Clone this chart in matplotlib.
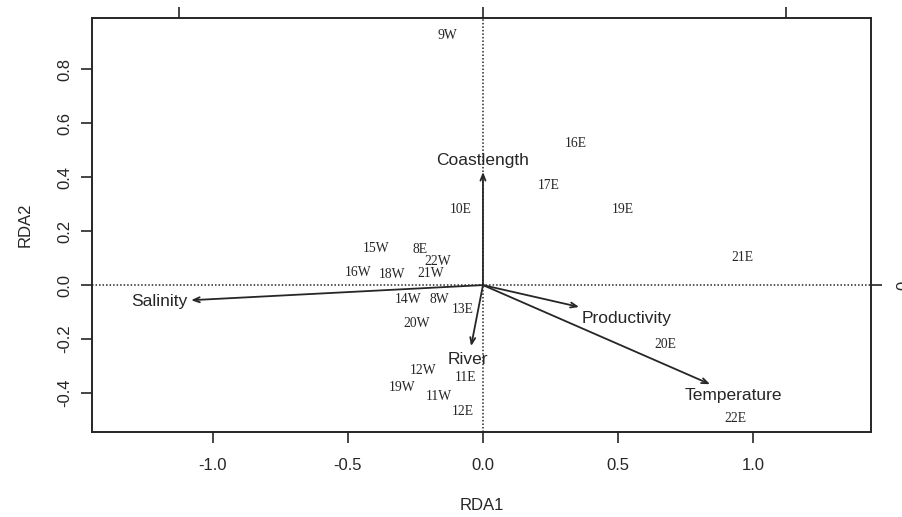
import numpy as np
import matplotlib
matplotlib.use("Agg")
import matplotlib.pyplot as plt

# site scores (RDA1, RDA2)
sites = ["9W", "16E", "17E", "19E", "10E", "21E",
         "15W", "8E", "22W", "16W", "18W", "21W",
         "14W", "8W", "13E", "20W", "12W", "11E",
         "19W", "11W", "12E", "20E", "22E"]
site_x = [-0.133, 0.344, 0.244, 0.519, -0.081, 0.959,
          -0.396, -0.233, -0.167, -0.463, -0.337, -0.193,
          -0.278, -0.163, -0.074, -0.244, -0.222, -0.063,
          -0.300, -0.163, -0.074, 0.674, 0.933]
site_y = [0.926, 0.526, 0.370, 0.281, 0.281, 0.104,
          0.137, 0.130, 0.089, 0.048, 0.041, 0.044,
          -0.052, -0.052, -0.089, -0.144, -0.315, -0.344,
          -0.381, -0.411, -0.467, -0.219, -0.493]

# environmental biplot arrows and where their labels sit
env = ["Coastlength", "Salinity", "Productivity", "Temperature", "River"]
env_x = [0.0, -1.081, 0.356, 0.841, -0.044]
env_y = [0.419, -0.056, -0.081, -0.367, -0.226]
env_lab_x = [0.0, -1.200, 0.533, 0.926, -0.056]
env_lab_y = [0.463, -0.059, -0.122, -0.407, -0.274]

# ticks of the arrow-scale axes (top and right)
arrow_axis_ticks = [-1.124, 0.0, 1.124]

ink = "#262626"
plt.rcParams["font.family"] = ["Liberation Sans", "DejaVu Sans"]

fig = plt.figure(figsize=(9.02, 5.17), dpi=100)
ax = fig.add_axes([0.102, 0.1644, 0.8636, 0.8008])

ax.set_xlim(-1.448, 1.437)
ax.set_ylim(-0.544, 0.989)

ax.axhline(0, color=ink, lw=1.1, ls=(0, (1, 1.3)))
ax.axvline(0, color=ink, lw=1.1, ls=(0, (1, 1.3)))

for name, x, y in zip(sites, site_x, site_y):
    ax.text(x, y, name, ha="center", va="center", fontsize=9.8,
            family="Liberation Serif", color=ink)

for name, x, y, lx, ly in zip(env, env_x, env_y, env_lab_x, env_lab_y):
    ax.annotate("", xy=(x, y), xytext=(0, 0),
                arrowprops=dict(arrowstyle="->,head_length=0.45,head_width=0.18",
                                color=ink, lw=1.3, shrinkA=0, shrinkB=0))
    ax.text(lx, ly, name, ha="center", va="center", fontsize=12.5, color=ink)

ax.set_xticks([-1.0, -0.5, 0.0, 0.5, 1.0])
ax.set_yticks([-0.4, -0.2, 0.0, 0.2, 0.4, 0.6, 0.8])
ax.set_xticklabels(["-1.0", "-0.5", "0.0", "0.5", "1.0"])
ax.set_yticklabels(["-0.4", "-0.2", "0.0", "0.2", "0.4", "0.6", "0.8"])
ax.tick_params(length=8, width=1.2, color=ink, labelsize=12,
               labelcolor=ink, pad=6)
for lab in ax.get_yticklabels():
    lab.set_rotation(90)
    lab.set_va("center")
ax.tick_params(axis="x", pad=11)

for sp in ax.spines.values():
    sp.set_linewidth(1.4)
    sp.set_color(ink)

ax.set_xlabel("RDA1", fontsize=12, color=ink, labelpad=18)
ax.set_ylabel("RDA2", fontsize=12, color=ink, labelpad=18)

# arrow-scale axis on top: ticks only
top = ax.secondary_xaxis("top")
top.set_xticks(arrow_axis_ticks)
top.tick_params(length=8, width=1.2, color=ink, labeltop=False)
top.spines["top"].set_visible(False)

right = ax.secondary_yaxis("right")
right.set_yticks([0.0])
right.set_yticklabels(["0"])
right.tick_params(length=8, width=1.2, color=ink, labelsize=12,
                  labelcolor=ink, pad=10)
right.spines["right"].set_visible(False)
for lab in right.get_yticklabels():
    lab.set_rotation(90)
    lab.set_va("center")

fig.savefig("out.png", dpi=100)
